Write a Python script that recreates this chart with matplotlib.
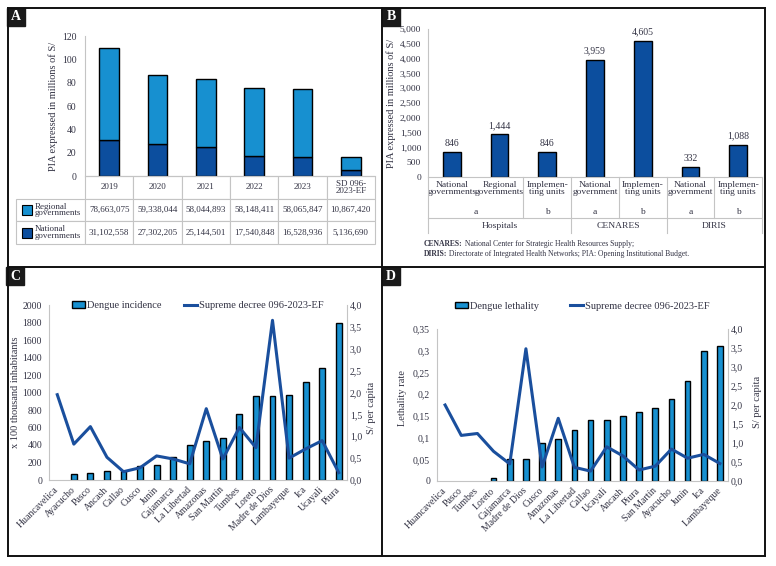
import numpy as np
import matplotlib
matplotlib.use("Agg")
import matplotlib.pyplot as plt
from matplotlib.patches import Rectangle
from matplotlib.lines import Line2D
from matplotlib.ticker import FuncFormatter, MultipleLocator

W, H = 776, 566
TXT = "#333344"
LIGHT = "#1790d0"
DARK = "#0c4e9e"
LINE = "#1a4f9d"
GRID = "#c4c4c4"

# --- panel A: PIA by year ---
A_COLS = ["2019", "2020", "2021", "2022", "2023", "SD 096-\n2023-EF"]
A_ROWS = ["Regional\ngovernments", "National\ngovernments"]
A_REGIONAL = [78663075, 59338044, 58044893, 58148411, 58065847, 10867420]
A_NATIONAL = [31102558, 27302205, 25144501, 17540848, 16528936, 5136690]

# --- panel B: PIA by executing unit ---
B_UNITS = ["National\ngovernments", "Regional\ngovernments", "Implemen-\nting units",
           "National\ngovernment", "Implemen-\nting units",
           "National\ngovernment", "Implemen-\nting units"]
B_VALUES = [846, 1444, 846, 3959, 4605, 332, 1088]
B_LEVEL2 = ["a", "b", "a", "b", "a", "b"]
B_LEVEL2_SPAN = [(0, 1), (2, 2), (3, 3), (4, 4), (5, 5), (6, 6)]
B_GROUPS = ["Hospitals", "CENARES", "DIRIS"]
B_GROUP_SPAN = [(0, 2), (3, 4), (5, 6)]

# --- panel C: incidence vs per capita ---
C_REGIONS = ["Huancavelica", "Ayacucho", "Pasco", "Ancash", "Callao", "Cusco", "Junín",
             "Cajamarca", "La Libertad", "Amazonas", "San Martín", "Tumbes", "Loreto",
             "Madre de Dios", "Lambayeque", "Ica", "Ucayali", "Piura"]
C_INCIDENCE = [0, 70, 80, 105, 100, 160, 170, 265, 395, 450, 485, 750, 965, 965, 975, 1115, 1275, 1795]
C_PER_CAPITA = [1.95, 0.82, 1.22, 0.52, 0.19, 0.28, 0.55, 0.48, 0.37, 1.63, 0.48, 1.2,
                0.74, 3.65, 0.5, 0.71, 0.9, 0.17]

# --- panel D: lethality vs per capita ---
D_REGIONS = ["Huancavelica", "Pasco", "Tumbes", "Loreto", "Cajamarca", "Madre de Dios", "Cusco",
             "Amazonas", "La Libertad", "Callao", "Ucayali", "Ancash", "Piura", "San Martín",
             "Ayacucho", "Junín", "Ica", "Lambayeque"]
D_LETHALITY = [0, 0, 0, 0.007, 0.05, 0.05, 0.088, 0.097, 0.118, 0.14, 0.14, 0.15, 0.16,
               0.168, 0.188, 0.23, 0.30, 0.31]
D_PER_CAPITA = [2.0, 1.2, 1.25, 0.78, 0.45, 3.48, 0.37, 1.65, 0.36, 0.26, 0.9, 0.66, 0.29,
                0.39, 0.84, 0.6, 0.7, 0.46]

plt.rcParams["font.family"] = ["Liberation Serif", "DejaVu Serif"]
plt.rcParams["font.size"] = 6.5
plt.rcParams["text.color"] = TXT
plt.rcParams["axes.labelcolor"] = TXT
plt.rcParams["xtick.color"] = TXT
plt.rcParams["ytick.color"] = TXT

fig = plt.figure(figsize=(W / 100, H / 100), dpi=100)


def add_axes(l, t, r, b):
    return fig.add_axes([l / W, 1 - b / H, (r - l) / W, (b - t) / H])


def fig_line(x0, y0, x1, y1, lw=1.4):
    fig.add_artist(Line2D([x0 / W, x1 / W], [1 - y0 / H, 1 - y1 / H], color="#111111", lw=lw))


def panel_letter(x, y, letter):
    fig.add_artist(Rectangle((x / W, 1 - (y + 18) / H), 18 / W, 18 / H, color="#1a1a1a"))
    fig.text((x + 9) / W, 1 - (y + 9) / H, letter, color="white", fontsize=10,
             fontweight="bold", ha="center", va="center")


def comma_fmt(nd, trim=False):
    def f(v, p):
        s = f"{v:.{nd}f}"
        if trim:
            s = s.rstrip("0").rstrip(".")
        return s.replace(".", ",")
    return FuncFormatter(f)


def style_axes(ax):
    for s in ["top", "right"]:
        ax.spines[s].set_visible(False)
    for s in ["left", "bottom"]:
        ax.spines[s].set_color(GRID)
    ax.tick_params(length=0)


# frame
fig_line(8, 8, 765, 8); fig_line(8, 556, 765, 556)
fig_line(8, 8, 8, 556); fig_line(765, 8, 765, 556)
fig_line(382, 8, 382, 556); fig_line(8, 267, 765, 267)

# ---------------- A ----------------
axA = add_axes(85, 36, 375, 176)
style_axes(axA)
xa = np.arange(len(A_COLS))
nat = np.array(A_NATIONAL) / 1e6
reg = np.array(A_REGIONAL) / 1e6
axA.bar(xa, nat, width=0.4, color=DARK, edgecolor="black", lw=1)
axA.bar(xa, reg, bottom=nat, width=0.4, color=LIGHT, edgecolor="black", lw=1)
axA.set_xlim(-0.5, len(xa) - 0.5)
axA.set_ylim(0, 120)
axA.set_yticks(range(0, 121, 20))
axA.set_xticks([])
axA.tick_params(axis="y", pad=6, labelsize=7)
axA.set_ylabel("PIA expressed in millions of S/", fontsize=7.5)
axA.yaxis.set_label_coords(-0.093, 0.5)

cells = [[A_ROWS[0]] + [f"{v:,}" for v in A_REGIONAL],
         [A_ROWS[1]] + [f"{v:,}" for v in A_NATIONAL]]
tab = axA.table(cellText=cells, colLabels=[""] + A_COLS,
                colWidths=[0.238] + [1 / 6] * 6, cellLoc="center",
                bbox=[-0.238, -0.486, 1.238, 0.486])
tab.auto_set_font_size(False)
tab.set_fontsize(6.5)
for (r, c), cell in tab.get_celld().items():
    cell.set_edgecolor(GRID)
    cell.set_linewidth(0.8)
    cell.get_text().set_color(TXT)
    cell.get_text().set_linespacing(0.8)
    if c == 0:
        cell.get_text().set_ha("left")
        cell.PAD = 0.27
        if r == 0:
            cell.visible_edges = "open"
for yc, col in [(-0.243, LIGHT), (-0.405, DARK)]:
    axA.add_patch(Rectangle((-0.217, yc - 0.036), 0.034, 0.071, transform=axA.transAxes,
                            facecolor=col, edgecolor="black", lw=0.8, clip_on=False))

# ---------------- B ----------------
axB = add_axes(428, 29, 762, 177)
style_axes(axB)
xb = np.arange(len(B_UNITS))
bars = axB.bar(xb, B_VALUES, width=0.37, color=DARK, edgecolor="black", lw=1)
axB.bar_label(bars, labels=[f"{v:,}" for v in B_VALUES], padding=3, fontsize=7, color=TXT)
axB.set_xlim(-0.5, len(xb) - 0.5)
axB.set_ylim(0, 5000)
axB.yaxis.set_major_locator(MultipleLocator(500))
axB.yaxis.set_major_formatter(FuncFormatter(lambda v, p: f"{v:,.0f}"))
axB.set_xticks(xb)
axB.set_xticklabels(B_UNITS, linespacing=0.85)
axB.tick_params(axis="x", pad=3, labelsize=6.8)
axB.tick_params(axis="y", pad=5, labelsize=6.8)
axB.set_ylabel("PIA expressed in millions of S/", fontsize=7.5)
axB.yaxis.set_label_coords(-0.096, 0.5)

tb = axB.get_xaxis_transform()
for lab, (i0, i1) in zip(B_LEVEL2, B_LEVEL2_SPAN):
    axB.text((i0 + i1) / 2, -0.236, lab, transform=tb, ha="center", va="center", fontsize=6.8)
for lab, (i0, i1) in zip(B_GROUPS, B_GROUP_SPAN):
    axB.text((i0 + i1) / 2, -0.331, lab, transform=tb, ha="center", va="center", fontsize=6.8)
group_edges = [-0.5] + [g[1] + 0.5 for g in B_GROUP_SPAN]
for (i0, i1) in B_LEVEL2_SPAN[:-1]:
    if i1 + 0.5 not in group_edges:
        axB.plot([i1 + 0.5] * 2, [0, -0.277], transform=tb, color=GRID, lw=0.8, clip_on=False)
for bnd in group_edges:
    axB.plot([bnd] * 2, [0, -0.378], transform=tb, color=GRID, lw=0.8, clip_on=False)
axB.plot([-0.5, len(xb) - 0.5], [-0.277] * 2, transform=tb, color=GRID, lw=0.8, clip_on=False)

t1 = fig.text(424 / W, 1 - 244 / H, "CENARES:", fontsize=5.5, fontweight="bold", va="center")
axB.annotate(" National Center for Strategic Health Resources Supply;", xy=(1, 0.5),
             xycoords=t1, va="center", fontsize=5.5, annotation_clip=False)
t2 = fig.text(424 / W, 1 - 254 / H, "DIRIS:", fontsize=5.5, fontweight="bold", va="center")
axB.annotate(" Directorate of Integrated Health Networks; PIA: Opening Institutional Budget.",
             xy=(1, 0.5), xycoords=t2, va="center", fontsize=5.5, annotation_clip=False)


# ---------------- C & D ----------------
def combo(box, regions, bars_v, line_v, bar_label, ylim, ystep, yfmt, ylabel,
          lab_left, lab_right, leg_y, colgap):
    ax = add_axes(*box)
    style_axes(ax)
    x = np.arange(len(regions))
    bc = ax.bar(x, bars_v, width=0.36, color=LIGHT, edgecolor="black", lw=1, label=bar_label)
    ax.set_xlim(-0.5, len(x) - 0.5)
    ax.set_ylim(0, ylim)
    ax.yaxis.set_major_locator(MultipleLocator(ystep))
    ax.yaxis.set_major_formatter(yfmt)
    ax.set_xticks(x)
    ax.set_xticklabels(regions, rotation=45, ha="right", va="center",
                       rotation_mode="anchor", fontsize=7)
    ax.tick_params(axis="x", pad=6)
    ax.tick_params(axis="y", pad=5, labelsize=7)
    ax.set_ylabel(ylabel, fontsize=7.5)
    ax.yaxis.set_label_coords(*lab_left)

    ax2 = ax.twinx()
    ax2.spines["top"].set_visible(False)
    ax2.spines["left"].set_visible(False)
    ax2.spines["bottom"].set_visible(False)
    ax2.spines["right"].set_color(GRID)
    ax2.plot(x, line_v, color=LINE, lw=2.2, label="Supreme decree 096-2023-EF")
    ax2.set_ylim(0, 4)
    ax2.yaxis.set_major_locator(MultipleLocator(0.5))
    ax2.yaxis.set_major_formatter(comma_fmt(1))
    ax2.tick_params(length=0, pad=2, labelsize=7)
    ax2.set_ylabel("S/ per capita", fontsize=7.5)
    ax2.yaxis.set_label_coords(*lab_right)

    h1, l1 = ax.get_legend_handles_labels()
    h2, l2 = ax2.get_legend_handles_labels()
    ax2.legend(h1 + h2, l1 + l2, loc="center", bbox_to_anchor=(0.5, leg_y), ncol=2,
               frameon=False, fontsize=7.5, columnspacing=colgap, handlelength=1.2,
               handleheight=0.6, handletextpad=0.2)
    # empty bars get no outline (done after the legend copies the style)
    for p, v in zip(bc.patches, bars_v):
        if v == 0:
            p.set_linewidth(0)
    return ax, ax2


combo((49, 305, 347, 480), C_REGIONS, C_INCIDENCE, C_PER_CAPITA, "Dengue incidence",
      2000, 200, FuncFormatter(lambda v, p: f"{v:.0f}"), "x 100 thousand inhabitants",
      (-0.098, 0.5), (1.067, 0.41), 0.995, 2.2)
combo((437, 329, 728, 481), D_REGIONS, D_LETHALITY, D_PER_CAPITA, "Dengue lethality",
      0.35, 0.05, comma_fmt(2, trim=True), "Lethality rate",
      (-0.103, 0.546), (1.086, 0.52), 1.151, 3.0)

panel_letter(7, 8, "A")
panel_letter(382, 8, "B")
panel_letter(6, 267, "C")
panel_letter(382, 267, "D")

fig.savefig("out.png", dpi=100)
